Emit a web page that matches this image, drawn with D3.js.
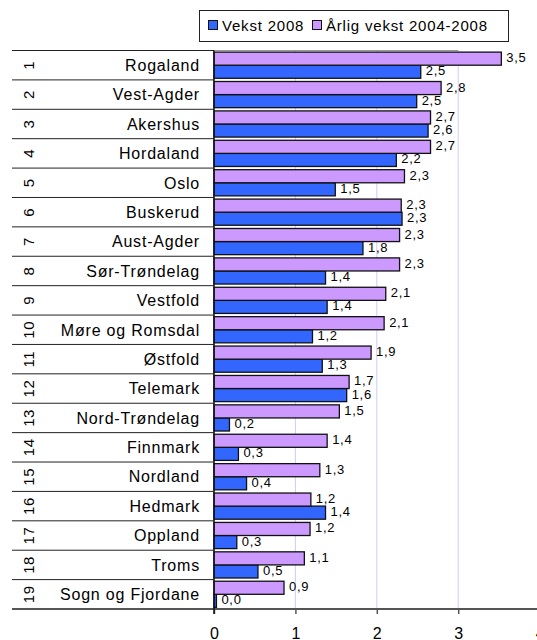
<!DOCTYPE html>
<html>
<head>
<meta charset="utf-8">
<script src="https://cdn.jsdelivr.net/npm/d3@7"></script>
<style>
  body { margin: 0; background: #fff; }
  text { font-family: Arial, "Liberation Sans", sans-serif; fill: #000; }
</style>
</head>
<body>
<div id="chart"></div>
<script>
// fylker, rangert etter årlig vekst
var names = ["Rogaland", "Vest-Agder", "Akershus", "Hordaland", "Oslo", "Buskerud",
  "Aust-Agder", "Sør-Trøndelag", "Vestfold", "Møre og Romsdal", "Østfold", "Telemark",
  "Nord-Trøndelag", "Finnmark", "Nordland", "Hedmark", "Oppland", "Troms", "Sogn og Fjordane"];
var vekst2008 = [2.54, 2.49, 2.63, 2.24, 1.49, 2.31, 1.83, 1.37, 1.39, 1.21, 1.33, 1.63,
  0.19, 0.30, 0.40, 1.37, 0.28, 0.54, 0.03];
var aarligVekst = [3.53, 2.79, 2.66, 2.66, 2.34, 2.30, 2.28, 2.28, 2.11, 2.09, 1.93, 1.66,
  1.54, 1.39, 1.30, 1.19, 1.18, 1.11, 0.86];
var seriesNames = ["Vekst 2008", "Årlig vekst 2004-2008"];
var seriesColors = ["#3366ff", "#cc99ff"];
var xTicks = [0, 1, 2, 3, 4];

var width = 537, height = 640;
var svg = d3.select("#chart").append("svg")
  .attr("width", width).attr("height", height);

var x = d3.scaleLinear().domain([0, 4]).range([214, 539.6]);
var y = d3.scaleBand().domain(names).range([50.5, 609])
  .paddingInner(0.11).paddingOuter(0.055);
// purple bar on top, blue below
var sub = d3.scaleBand().domain([1, 0]).range([0, y.bandwidth()]);

var fmt = function(v) { return d3.format(".1f")(v).replace(".", ","); };

// grid
svg.append("g").selectAll("line")
  .data(xTicks.slice(1)).enter().append("line")
  .attr("x1", function(d) { return x(d); }).attr("x2", function(d) { return x(d); })
  .attr("y1", 50.5).attr("y2", 609)
  .attr("stroke", "#ccccff").attr("stroke-width", 1);

svg.append("line")
  .attr("x1", x(0)).attr("x2", x(3)).attr("y1", 50.5).attr("y2", 50.5)
  .attr("stroke", "#999");

// table rows on the left
var rowLines = d3.range(names.length);
svg.append("g").selectAll("line")
  .data(rowLines).enter().append("line")
  .attr("x1", 12).attr("x2", x(0))
  .attr("y1", function(i) { return 50.5 + i * y.step(); })
  .attr("y2", function(i) { return 50.5 + i * y.step(); })
  .attr("stroke", "#222");

svg.append("g").selectAll("text")
  .data(names).enter().append("text")
  .attr("x", 200)
  .attr("y", function(d) { return y(d) + y.bandwidth() / 2; })
  .attr("dy", "0.36em")
  .attr("text-anchor", "end")
  .style("font-size", "16px")
  .style("letter-spacing", "0.8px")
  .text(function(d) { return d; });

svg.append("g").selectAll("text")
  .data(names).enter().append("text")
  .attr("transform", function(d) {
    return "translate(29," + (y(d) + y.bandwidth() / 2) + ") rotate(-90)";
  })
  .attr("dy", "0.36em")
  .attr("text-anchor", "middle")
  .style("font-size", "15px")
  .style("letter-spacing", "0.6px")
  .text(function(d, i) { return i + 1; });

// bars
var series = [vekst2008, aarligVekst];
series.forEach(function(vals, s) {
  var g = svg.append("g");
  g.selectAll("rect")
    .data(vals).enter().append("rect")
    .attr("x", x(0))
    .attr("y", function(d, i) { return y(names[i]) + sub(s); })
    .attr("width", function(d) { return x(d) - x(0); })
    .attr("height", sub.bandwidth())
    .attr("fill", seriesColors[s])
    .attr("stroke", "#111")
    .attr("stroke-width", 1.3);
  g.selectAll("text")
    .data(vals).enter().append("text")
    .attr("x", function(d) { return x(d) + 5; })
    .attr("y", function(d, i) { return y(names[i]) + sub(s) + sub.bandwidth() / 2 + 3.5; })
    .style("font-size", "13px")
    .style("letter-spacing", "0.7px")
    .text(function(d) { return fmt(d); });
});

// axis
svg.append("line")
  .attr("x1", 12).attr("x2", width).attr("y1", 609).attr("y2", 609)
  .attr("stroke", "#555").attr("stroke-width", 2);

var axis = svg.append("g")
  .attr("transform", "translate(0,609)")
  .call(d3.axisBottom(x).tickValues(xTicks).tickFormat(d3.format("d"))
    .tickSize(5).tickSizeOuter(0).tickPadding(13.5));
axis.select(".domain").remove();
axis.selectAll(".tick line").attr("stroke", "#555").attr("stroke-width", 1.5);
axis.selectAll(".tick text")
  .style("font-size", "16px")
  .style("font-family", "Arial, 'Liberation Sans', sans-serif")
  .attr("fill", "#000");

svg.append("line")
  .attr("x1", x(0)).attr("x2", x(0)).attr("y1", 50.5).attr("y2", 614)
  .attr("stroke", "#111").attr("stroke-width", 1.5);

// legend
var legend = svg.append("g");
legend.append("rect")
  .attr("x", 199.5).attr("y", 10.5).attr("width", 309).attr("height", 31)
  .attr("fill", "#fff").attr("stroke", "#222");
var legendX = [208, 312];
seriesNames.forEach(function(n, s) {
  legend.append("rect")
    .attr("x", legendX[s] + 0.5).attr("y", 20.5).attr("width", 9).attr("height", 9)
    .attr("fill", seriesColors[s]).attr("stroke", "#111");
  legend.append("text")
    .attr("x", legendX[s] + 14).attr("y", 30.5)
    .style("font-size", "15px")
    .style("letter-spacing", "0.8px")
    .text(n);
});
</script>
</body>
</html>
